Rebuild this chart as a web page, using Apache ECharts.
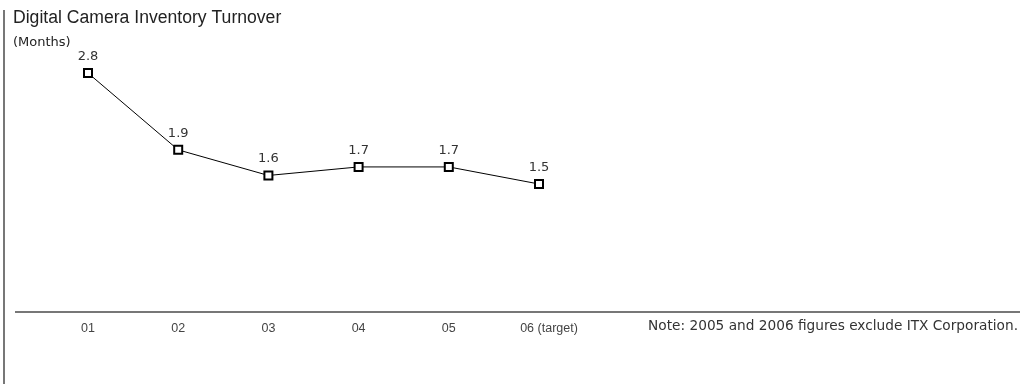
<!DOCTYPE html>
<html>
<head>
<meta charset="utf-8">
<script src="https://cdn.jsdelivr.net/npm/echarts@6/dist/echarts.min.js"></script>
<style>
html, body { margin: 0; padding: 0; background: #fff; }
#chart { width: 1027px; height: 384px; }
</style>
</head>
<body>
<div id="chart"></div>
<script>
var years = ['01', '02', '03', '04', '05', '06 (target)']
var turnover = [2.8, 1.9, 1.6, 1.7, 1.7, 1.5]

var myChart = echarts.init(document.getElementById('chart'))

// last label sits a bit to the right of its point in the original
var labelData = years.map(function (y, i) {
    if (i === years.length - 1) {
        return { value: y, textStyle: { padding: [0, 0, 0, 20] } }
    }
    return y
})

var option = {
    animation: false,
    backgroundColor: '#fff',
    textStyle: { fontFamily: 'Liberation Sans, Arial, sans-serif' },
    title: [{
        text: 'Digital Camera Inventory Turnover',
        left: 9, top: 9,
        padding: [0, 4],
        textStyle: { fontSize: 17.6, fontWeight: 'normal', color: '#222' }
    }, {
        text: '(Months)',
        left: 9, top: 36,
        padding: [0, 4],
        textStyle: { fontSize: 13, fontWeight: 'normal', color: '#222', fontFamily: 'DejaVu Sans' }
    }, {
        text: 'Note: 2005 and 2006 figures exclude ITX Corporation.',
        right: 9, top: 319,
        padding: 0,
        textStyle: { fontSize: 13.7, fontWeight: 'normal', color: '#333', fontFamily: 'DejaVu Sans' }
    }],
    grid: { left: 88, right: 488, top: 56, bottom: 72 },
    xAxis: {
        type: 'category',
        data: labelData,
        boundaryGap: false,
        axisLine: { show: false },
        axisTick: { show: false },
        axisLabel: { margin: 10, fontSize: 12.5, color: '#444' }
    },
    yAxis: {
        type: 'value', min: 0, max: 3,
        show: false
    },
    graphic: [{
        type: 'line',
        shape: { x1: 4, y1: 10, x2: 4, y2: 384 },
        style: { stroke: '#777', lineWidth: 2 }
    }, {
        type: 'line',
        shape: { x1: 15, y1: 312, x2: 1020, y2: 312 },
        style: { stroke: '#777', lineWidth: 2 }
    }],
    series: [{
        type: 'line',
        data: turnover,
        symbol: 'rect',
        symbolSize: 8,
        itemStyle: { color: '#fff', borderColor: '#000', borderWidth: 2 },
        lineStyle: { color: '#000', width: 1 },
        label: {
            show: true,
            position: 'top',
            distance: 5,
            fontSize: 13,
            fontFamily: 'DejaVu Sans',
            color: '#333',
            formatter: function (p) { return p.value.toFixed(1) }
        }
    }]
}

myChart.setOption(option)
</script>
</body>
</html>
